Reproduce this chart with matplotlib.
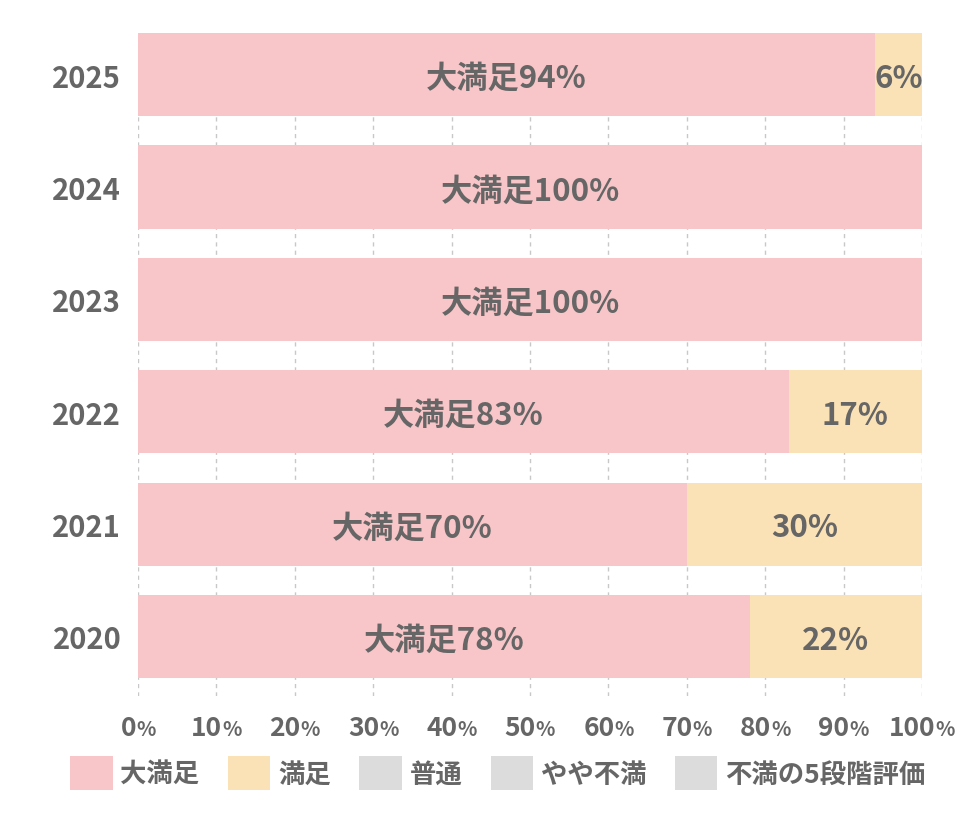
import matplotlib.pyplot as plt
from matplotlib.patches import Patch
import numpy as np

plt.rcParams['font.family'] = ['Noto Sans CJK JP', 'DejaVu Sans']
plt.rcParams['font.weight'] = 'bold'

# data (bottom to top)
years = ['2020', '2021', '2022', '2023', '2024', '2025']
very_satisfied = [78, 70, 83, 100, 100, 94]
satisfied = [22, 30, 17, 0, 0, 6]
legend_labels = ['大満足', '満足', '普通', 'やや不満', '不満の5段階評価']
xticks = [0, 10, 20, 30, 40, 50, 60, 70, 80, 90, 100]

pink = '#f8c6c8'
beige = '#fbe2b6'
grey = '#dcdcdc'
txt = '#666666'
legend_colors = [pink, beige, grey, grey, grey]

fig = plt.figure(figsize=(9.8, 8.28), dpi=100)
ax = fig.add_axes([0.1408, 0.1582, 0.8, 0.8007])

y = np.arange(len(years))
ax.barh(y, very_satisfied, height=0.74, color=pink, zorder=2)
ax.barh(y, satisfied, left=very_satisfied, height=0.74, color=beige, zorder=2)

for i in range(len(years)):
    v1 = very_satisfied[i]
    v2 = satisfied[i]
    if v1 > 0:
        ax.text(v1 / 2, i - 0.03, f'大満足{v1}%', ha='center', va='center',
                fontsize=22.5, color=txt, zorder=3)
    if v2 > 0:
        ax.text(v1 + v2 / 2, i - 0.03, f'{v2}%', ha='center', va='center',
                fontsize=22.5, color=txt, zorder=3)

ax.set_xlim(0, 100)
ax.set_ylim(-0.53, 5.37)
ax.set_xticks(xticks)
ax.set_xticklabels([])
ax.set_yticks(y, years)
ax.tick_params(axis='both', length=0)
ax.tick_params(axis='y', pad=12, labelsize=21, labelcolor=txt)
ax.grid(axis='x', ls=(0, (3, 3)), color='#c8c8c8', lw=1)
ax.grid(axis='y', visible=False)
ax.set_axisbelow(True)
for s in ax.spines.values():
    s.set_visible(False)

# x tick labels with smaller %
fig.canvas.draw()
r = fig.canvas.get_renderer()
for t in xticks:
    num = ax.annotate(str(t), xy=(t, 0), xycoords=('data', 'axes fraction'),
                      xytext=(0, -28), textcoords='offset points', ha='right',
                      va='baseline', fontsize=19, color=txt, annotation_clip=False)
    pc = ax.annotate('%', xy=(t, 0), xycoords=('data', 'axes fraction'),
                     xytext=(0, -28), textcoords='offset points', ha='left',
                     va='baseline', fontsize=14.5, color=txt, annotation_clip=False)
    w1 = num.get_window_extent(r).width
    w2 = pc.get_window_extent(r).width
    dx = (w1 - w2) / 2 * 72 / fig.dpi
    num.xyann = (dx, -28)
    pc.xyann = (dx, -28)

handles = [Patch(facecolor=c, label=l) for c, l in zip(legend_colors, legend_labels)]
fig.legend(handles=handles, ncol=5, loc='center', bbox_to_anchor=(0.508, 1 - 774 / 828),
           frameon=False, fontsize=19, handlelength=1.6, handleheight=1.6,
           handletextpad=0.3, columnspacing=1.08, borderpad=0, labelcolor=txt)

fig.savefig('out.png', dpi=100)
